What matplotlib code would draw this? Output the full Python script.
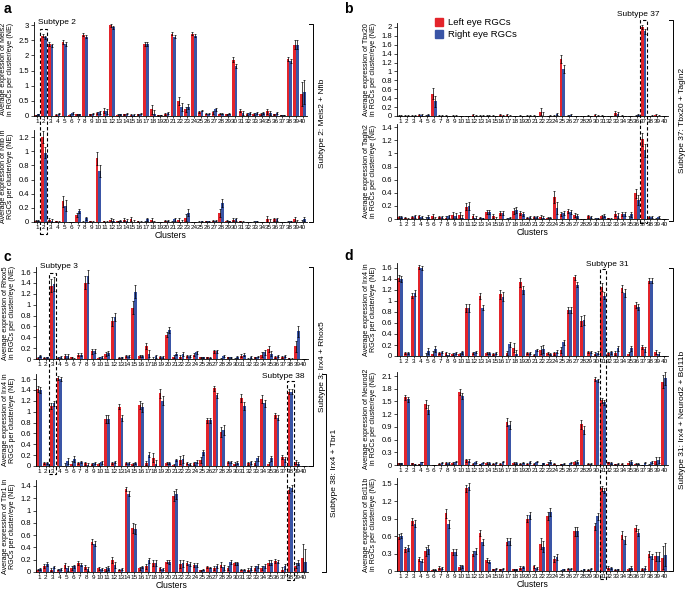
import numpy as np
import matplotlib
matplotlib.use("Agg")
import matplotlib.pyplot as plt
import matplotlib.patches as mpatches
import matplotlib.lines as mlines
import matplotlib.transforms as mtrans
from matplotlib.ticker import FuncFormatter

plt.rcParams['font.family'] = ['Liberation Sans', 'DejaVu Sans']

clusters = list(range(1, 41))

# ---- panel a ----
meis2_L = [0.02, 2.65, 2.38, 0.03, 2.45, 0.03, 0.05, 2.68, 0.05, 0.10, 0.18, 3.00, 0.03, 0.05, 0.03, 0.05, 2.37, 0.22, 0.02, 0.07,
           2.72, 0.50, 0.22, 2.72, 0.12, 0.07, 0.12, 0.07, 0.05, 1.85, 0.18, 0.07, 0.07, 0.07, 0.15, 0.05, 0.03, 1.87, 2.35, 0.72]
meis2_R = [0.05, 2.60, 2.33, 0.07, 2.37, 0.10, 0.05, 2.62, 0.08, 0.12, 0.15, 2.93, 0.05, 0.07, 0.03, 0.07, 2.38, 0.05, 0.03, 0.10,
           2.62, 0.30, 0.30, 2.65, 0.18, 0.07, 0.22, 0.07, 0.08, 1.65, 0.10, 0.10, 0.10, 0.10, 0.10, 0.10, 0.03, 1.82, 2.35, 0.78]
meis2_err = [0.02, 0.05, 0.06, 0.02, 0.07, 0.03, 0.02, 0.05, 0.02, 0.04, 0.08, 0.05, 0.02, 0.02, 0.02, 0.02, 0.06, 0.15, 0.01, 0.03,
             0.06, 0.13, 0.08, 0.05, 0.03, 0.02, 0.05, 0.02, 0.02, 0.08, 0.06, 0.03, 0.03, 0.03, 0.07, 0.03, 0.01, 0.07, 0.15, 0.40]

nfib_L = [0.02, 1.20, 0.03, 0.01, 0.29, 0.00, 0.10, 0.00, 0.01, 0.90, 0.01, 0.03, 0.01, 0.03, 0.04, 0.01, 0.00, 0.03, 0.00, 0.02,
          0.00, 0.03, 0.06, 0.00, 0.00, 0.01, 0.02, 0.13, 0.02, 0.03, 0.01, 0.00, 0.00, 0.00, 0.04, 0.04, 0.00, 0.00, 0.04, 0.00]
nfib_R = [0.02, 0.98, 0.02, 0.00, 0.23, 0.00, 0.16, 0.05, 0.00, 0.72, 0.00, 0.02, 0.02, 0.02, 0.00, 0.00, 0.04, 0.00, 0.00, 0.02,
          0.04, 0.00, 0.13, 0.00, 0.01, 0.01, 0.02, 0.27, 0.01, 0.04, 0.00, 0.00, 0.01, 0.00, 0.00, 0.04, 0.00, 0.01, 0.00, 0.04]
nfib_err = [0.01, 0.08, 0.02, 0.01, 0.08, 0.00, 0.03, 0.02, 0.01, 0.09, 0.01, 0.02, 0.01, 0.02, 0.03, 0.01, 0.02, 0.02, 0.00, 0.01,
            0.02, 0.03, 0.05, 0.00, 0.01, 0.01, 0.01, 0.06, 0.01, 0.02, 0.01, 0.00, 0.01, 0.00, 0.04, 0.02, 0.00, 0.01, 0.03, 0.03]

# ---- panel b ----
tbx20_L = [0.01, 0.01, 0.01, 0.02, 0.00, 0.50, 0.01, 0.01, 0.01, 0.00, 0.00, 0.03, 0.01, 0.01, 0.01, 0.02, 0.02, 0.00, 0.01, 0.01,
           0.01, 0.10, 0.00, 0.01, 1.28, 0.01, 0.00, 0.00, 0.01, 0.02, 0.01, 0.00, 0.07, 0.01, 0.00, 0.01, 2.00, 0.00, 0.02, 0.00]
tbx20_R = [0.01, 0.01, 0.01, 0.03, 0.03, 0.33, 0.01, 0.00, 0.01, 0.00, 0.00, 0.01, 0.01, 0.01, 0.00, 0.01, 0.00, 0.00, 0.00, 0.01,
           0.00, 0.00, 0.01, 0.05, 1.06, 0.02, 0.00, 0.00, 0.00, 0.01, 0.00, 0.00, 0.05, 0.00, 0.00, 0.02, 1.90, 0.01, 0.00, 0.00]
tbx20_err = [0.01, 0.01, 0.01, 0.02, 0.02, 0.12, 0.01, 0.01, 0.01, 0.00, 0.00, 0.02, 0.01, 0.01, 0.01, 0.02, 0.02, 0.00, 0.01, 0.01,
             0.01, 0.08, 0.01, 0.02, 0.09, 0.02, 0.00, 0.00, 0.01, 0.02, 0.01, 0.00, 0.04, 0.01, 0.00, 0.02, 0.05, 0.01, 0.02, 0.00]

tagln2_L = [0.03, 0.02, 0.03, 0.04, 0.00, 0.04, 0.03, 0.02, 0.06, 0.06, 0.19, 0.05, 0.02, 0.10, 0.04, 0.09, 0.00, 0.12, 0.09, 0.02,
            0.03, 0.03, 0.02, 0.33, 0.08, 0.12, 0.06, 0.00, 0.04, 0.00, 0.04, 0.01, 0.08, 0.07, 0.00, 0.39, 1.22, 0.03, 0.00, 0.00]
tagln2_R = [0.03, 0.00, 0.04, 0.03, 0.03, 0.00, 0.03, 0.04, 0.05, 0.01, 0.20, 0.02, 0.01, 0.11, 0.00, 0.09, 0.02, 0.14, 0.07, 0.03,
            0.03, 0.02, 0.02, 0.17, 0.09, 0.10, 0.05, 0.00, 0.03, 0.01, 0.05, 0.00, 0.05, 0.07, 0.07, 0.29, 1.05, 0.03, 0.03, 0.00]
tagln2_err = [0.01, 0.01, 0.02, 0.02, 0.03, 0.03, 0.01, 0.02, 0.04, 0.05, 0.06, 0.03, 0.01, 0.03, 0.03, 0.03, 0.01, 0.05, 0.03, 0.01,
              0.02, 0.03, 0.01, 0.09, 0.03, 0.03, 0.03, 0.00, 0.02, 0.01, 0.02, 0.01, 0.04, 0.03, 0.04, 0.07, 0.10, 0.01, 0.02, 0.00]

# ---- panel c / d ----
rhox5_L = [0.02, 0.02, 1.35, 0.02, 0.06, 0.03, 0.08, 1.40, 0.14, 0.02, 0.09, 0.69, 0.02, 0.05, 0.94, 0.05, 0.24, 0.00, 0.04, 0.45,
           0.04, 0.04, 0.05, 0.08, 0.03, 0.03, 0.14, 0.00, 0.03, 0.00, 0.06, 0.00, 0.03, 0.08, 0.18, 0.03, 0.04, 0.01, 0.23, 0.00]
rhox5_R = [0.05, 0.03, 1.38, 0.03, 0.06, 0.00, 0.08, 1.52, 0.15, 0.03, 0.11, 0.77, 0.03, 0.06, 1.24, 0.05, 0.10, 0.05, 0.03, 0.53,
           0.10, 0.09, 0.05, 0.12, 0.03, 0.02, 0.14, 0.05, 0.03, 0.03, 0.08, 0.04, 0.04, 0.12, 0.10, 0.05, 0.05, 0.00, 0.51, 0.00]
rhox5_err = [0.02, 0.01, 0.12, 0.02, 0.04, 0.01, 0.03, 0.12, 0.04, 0.02, 0.04, 0.08, 0.01, 0.02, 0.12, 0.02, 0.06, 0.03, 0.02, 0.05,
             0.03, 0.04, 0.02, 0.03, 0.01, 0.01, 0.03, 0.02, 0.01, 0.02, 0.03, 0.02, 0.01, 0.04, 0.05, 0.02, 0.02, 0.01, 0.10, 0.00]

irx4_L = [1.42, 0.05, 1.10, 1.62, 0.00, 0.04, 0.05, 0.05, 0.04, 0.03, 0.87, 0.06, 1.09, 0.05, 0.03, 1.12, 0.05, 0.15, 1.34, 0.05,
          0.02, 0.11, 0.05, 0.05, 0.11, 0.84, 1.43, 0.63, 0.07, 0.04, 1.25, 0.05, 0.05, 1.23, 0.03, 0.93, 0.16, 1.37, 0.07, 0.00]
irx4_R = [1.40, 0.06, 1.15, 1.60, 0.09, 0.13, 0.07, 0.02, 0.05, 0.07, 0.87, 0.08, 0.88, 0.05, 0.06, 1.08, 0.21, 0.03, 1.20, 0.06,
          0.11, 0.13, 0.03, 0.08, 0.25, 0.84, 1.30, 0.66, 0.07, 0.06, 1.10, 0.07, 0.14, 1.15, 0.14, 0.89, 0.12, 1.37, 0.04, 0.00]
irx4_err = [0.05, 0.02, 0.05, 0.03, 0.05, 0.06, 0.02, 0.03, 0.02, 0.03, 0.07, 0.02, 0.05, 0.02, 0.02, 0.08, 0.04, 0.08, 0.08, 0.02,
            0.02, 0.07, 0.02, 0.03, 0.05, 0.05, 0.05, 0.09, 0.02, 0.03, 0.07, 0.03, 0.04, 0.07, 0.05, 0.05, 0.04, 0.05, 0.04, 0.00]

tbr1_L = [0.04, 0.10, 0.04, 0.04, 0.11, 0.06, 0.15, 0.08, 0.49, 0.06, 0.05, 0.20, 0.04, 1.35, 0.72, 0.06, 0.09, 0.15, 0.06, 0.17,
          1.24, 0.13, 0.15, 0.11, 0.03, 0.08, 0.07, 0.12, 0.06, 0.14, 0.04, 0.04, 0.07, 0.07, 0.15, 0.18, 0.04, 1.33, 0.10, 0.23]
tbr1_R = [0.05, 0.13, 0.08, 0.05, 0.06, 0.09, 0.12, 0.05, 0.46, 0.05, 0.07, 0.12, 0.05, 1.27, 0.70, 0.08, 0.19, 0.15, 0.05, 0.16,
          1.27, 0.14, 0.13, 0.11, 0.04, 0.07, 0.10, 0.08, 0.16, 0.14, 0.04, 0.07, 0.10, 0.10, 0.15, 0.17, 0.09, 1.36, 0.15, 0.16]
tbr1_err = [0.01, 0.03, 0.02, 0.01, 0.04, 0.03, 0.03, 0.03, 0.04, 0.02, 0.03, 0.05, 0.01, 0.04, 0.08, 0.02, 0.04, 0.05, 0.02, 0.03,
            0.08, 0.06, 0.03, 0.03, 0.01, 0.01, 0.03, 0.04, 0.03, 0.02, 0.01, 0.03, 0.03, 0.03, 0.04, 0.03, 0.04, 0.05, 0.04, 0.22]

neurod2_L = [0.04, 1.60, 0.04, 0.02, 1.44, 0.00, 0.03, 0.05, 0.04, 1.73, 0.11, 0.03, 0.02, 0.05, 0.03, 0.03, 1.02, 0.05, 0.03, 0.03,
             0.03, 0.00, 0.03, 0.03, 0.02, 0.00, 0.06, 0.96, 0.03, 2.03, 1.53, 0.06, 0.02, 0.03, 0.05, 0.03, 0.00, 0.00, 0.10, 1.97]
neurod2_R = [0.04, 1.55, 0.02, 0.07, 1.31, 0.00, 0.05, 0.05, 0.08, 1.62, 0.10, 0.07, 0.05, 0.05, 0.05, 0.08, 0.95, 0.04, 0.05, 0.07,
             0.08, 0.04, 0.08, 0.00, 0.03, 0.05, 0.08, 0.83, 0.03, 2.00, 1.48, 0.05, 0.03, 0.00, 0.07, 0.03, 0.05, 0.07, 0.12, 2.05]
neurod2_err = [0.01, 0.06, 0.01, 0.01, 0.10, 0.00, 0.01, 0.02, 0.02, 0.07, 0.03, 0.02, 0.01, 0.02, 0.01, 0.02, 0.10, 0.02, 0.01, 0.02,
               0.02, 0.01, 0.03, 0.01, 0.01, 0.01, 0.03, 0.10, 0.01, 0.04, 0.06, 0.02, 0.01, 0.01, 0.04, 0.01, 0.01, 0.02, 0.08, 0.15]

bcl11b_L = [0.59, 0.37, 0.86, 0.21, 0.34, 0.02, 0.06, 0.99, 0.32, 0.07, 1.42, 0.30, 0.66, 0.19, 0.03, 0.03, 0.50, 0.03, 0.06, 0.90,
            0.08, 0.47, 0.95, 0.21, 0.00, 0.04, 0.68, 0.00, 0.02, 0.77, 1.42, 0.06, 0.02, 0.62, 0.04, 0.74, 0.03, 0.29, 0.25, 0.23]
bcl11b_R = [0.61, 0.40, 0.81, 0.18, 0.37, 0.02, 0.05, 0.81, 0.32, 0.08, 1.45, 0.34, 0.50, 0.16, 0.04, 0.04, 0.51, 0.03, 0.07, 0.96,
            0.05, 0.42, 1.02, 0.24, 0.03, 0.04, 0.68, 0.03, 0.04, 0.94, 1.38, 0.05, 0.03, 0.54, 0.06, 0.66, 0.06, 0.25, 0.25, 0.28]
bcl11b_err = [0.04, 0.05, 0.06, 0.03, 0.08, 0.01, 0.02, 0.07, 0.05, 0.03, 0.06, 0.05, 0.05, 0.03, 0.01, 0.01, 0.06, 0.01, 0.02, 0.06,
              0.02, 0.10, 0.07, 0.05, 0.01, 0.01, 0.07, 0.01, 0.01, 0.06, 0.04, 0.02, 0.01, 0.07, 0.02, 0.06, 0.02, 0.05, 0.08, 0.20]

RED = '#e3242b'
BLUE = '#3a55a6'
W, H = 685, 591

fig = plt.figure(figsize=(W / 100, H / 100), dpi=100)


def px_axes(x0, x1, y0, y1):
    return fig.add_axes([x0 / W, 1 - y1 / H, (x1 - x0) / W, (y1 - y0) / H])


def fmt(v, pos):
    return '%g' % round(v, 2)


def bar_panel(ax, left, right, err, ylim, yticks, ylabel, xlabel=False):
    x = np.array(clusters)
    w = 0.4
    ek = dict(elinewidth=0.5, capsize=0.8, capthick=0.5, ecolor='black')
    ax.bar(x - w / 2, left, w, color=RED, yerr=err, error_kw=ek)
    ax.bar(x + w / 2, right, w, color=BLUE, yerr=err, error_kw=ek)
    ax.set_xlim(0.55, 40.6)
    ax.set_ylim(*ylim)
    ax.set_yticks(yticks)
    ax.yaxis.set_major_formatter(FuncFormatter(fmt))
    ax.set_xticks(clusters)
    ax.set_xticklabels([str(c) for c in clusters])
    ax.tick_params(axis='x', labelsize=4.6, length=1.5, width=0.5, pad=1)
    ax.tick_params(axis='y', labelsize=5.5, length=2, width=0.5, pad=1.5)
    for s in ['top', 'right']:
        ax.spines[s].set_visible(False)
    for s in ['left', 'bottom']:
        ax.spines[s].set_linewidth(0.6)
    ax.set_facecolor('none')
    ax.set_ylabel(ylabel, fontsize=5.1, labelpad=3, linespacing=1.15)
    if xlabel:
        ax.set_xlabel('Clusters', fontsize=6.2, labelpad=0.5)


def dash_box(ax, cluster, ytop, ybot):
    tr = mtrans.blended_transform_factory(ax.transData, fig.transFigure)
    r = mpatches.Rectangle((cluster - 0.5, 1 - ybot / H), 1.0, (ybot - ytop) / H, transform=tr,
                           fill=False, ls=(0, (3, 2)), lw=0.8, ec='black')
    fig.add_artist(r)


def bracket(xp, ytop, ybot, label, ylab=None):
    xs = [(xp - 4) / W, xp / W, xp / W, (xp - 4) / W]
    ys = [1 - ytop / H, 1 - ytop / H, 1 - ybot / H, 1 - ybot / H]
    fig.add_artist(mlines.Line2D(xs, ys, lw=0.7, color='black', transform=fig.transFigure))
    yc = (ytop + ybot) / 2 if ylab is None else ylab
    fig.text((xp + 9) / W, 1 - yc / H, label, rotation=90, fontsize=6, ha='center', va='center')


def ftext(xp, yp, s, **kw):
    fig.text(xp / W, 1 - yp / H, s, **kw)


# panel a
a1 = px_axes(34, 307, 22, 116)
bar_panel(a1, meis2_L, meis2_R, meis2_err, (0, 3.1), np.arange(0, 3.01, 0.5),
          'Average expression of Meis2\nin RGCs per cluster/eye (NE)')
a2 = px_axes(34, 307, 130, 222)
bar_panel(a2, nfib_L, nfib_R, nfib_err, (0, 1.3), np.arange(0, 1.21, 0.2),
          'Average expression of Nfib in\nRGCs per cluster/eye (NE)', xlabel=True)
dash_box(a1, 2, 29, 234)
ftext(38, 22, 'Subtype 2', fontsize=6, va='center')
bracket(313, 24, 222, 'Subtype 2: Meis2 + Nfib')
ftext(4, 9, 'a', fontsize=10, fontweight='bold', va='center')

# panel b
b1 = px_axes(397, 668, 22.5, 116)
bar_panel(b1, tbx20_L, tbx20_R, tbx20_err, (0, 2.1), np.arange(0, 2.01, 0.2),
          'Average expression of Tbx20\nin RGCs per cluster/eye (NE)')
b2 = px_axes(397, 668, 124, 219)
bar_panel(b2, tagln2_L, tagln2_R, tagln2_err, (0, 1.45), np.arange(0, 1.41, 0.2),
          'Average expression of Tagln2\nin RGCs per cluster/eye (NE)', xlabel=True)
dash_box(b1, 37, 20, 223)
ftext(638, 15, 'Subtype 37', fontsize=6, va='center', ha='center')
bracket(673, 20, 221, 'Subtype 37: Tbx20 + Tagln2')
ftext(344, 9, 'b', fontsize=10, fontweight='bold', va='center')
hl = [mpatches.Patch(color=RED, label='Left eye RGCs'), mpatches.Patch(color=BLUE, label='Right eye RGCs')]
b1.legend(handles=hl, loc='upper left', bbox_to_anchor=(430 / W, 1 - 13 / H), bbox_transform=fig.transFigure,
          frameon=False, fontsize=6.8, handlelength=0.9, handleheight=1.0, handletextpad=0.5, labelspacing=0.25,
          borderpad=0)

# panel c
c1 = px_axes(36, 308, 266.6, 359)
bar_panel(c1, rhox5_L, rhox5_R, rhox5_err, (0, 1.7), np.arange(0, 1.61, 0.2),
          'Average expression of Rhox5\nin RGCs per cluster/eye (NE)')
c2 = px_axes(36, 308, 373.6, 466)
bar_panel(c2, irx4_L, irx4_R, irx4_err, (0, 1.7), np.arange(0, 1.61, 0.2),
          'Average expression of Irx4 in\nRGCs per cluster/eye (NE)')
c3 = px_axes(36, 308, 479.8, 572)
bar_panel(c3, tbr1_L, tbr1_R, tbr1_err, (0, 1.5), np.arange(0, 1.41, 0.2),
          'Average expression of Tbr1 in\nRGCs per cluster/eye (NE)', xlabel=True)
dash_box(c1, 3, 273, 474)
dash_box(c2, 38, 381, 580)
ftext(40, 267, 'Subtype 3', fontsize=6, va='center')
ftext(305, 376, 'Subtype 38', fontsize=6, va='center', ha='right')
bracket(313, 267, 466, 'Subtype 3: Irx4 + Rhox5')
bracket(326, 374, 572, 'Subtype 38: Irx4 + Tbr1')
ftext(4, 257, 'c', fontsize=10, fontweight='bold', va='center')

# panel d
d1 = px_axes(397, 668, 262.5, 356)
bar_panel(d1, irx4_L, irx4_R, irx4_err, (0, 1.7), np.arange(0, 1.61, 0.2),
          'Average expression of Irx4 in\nRGCs per cluster/eye (NE)')
d2 = px_axes(397, 668, 371.8, 465)
bar_panel(d2, neurod2_L, neurod2_R, neurod2_err, (0, 2.2), np.arange(0, 2.11, 0.3),
          'Average expression of Neurod2\nin RGCs per cluster/eye (NE)')
d3 = px_axes(397, 668, 478, 571)
bar_panel(d3, bcl11b_L, bcl11b_R, bcl11b_err, (0, 1.6), np.arange(0, 1.51, 0.3),
          'Average expression of Bcl11b\nin RGCs per cluster/eye (NE)', xlabel=True)
dash_box(d1, 31, 269, 579)
ftext(607, 264, 'Subtype 31', fontsize=6, va='center', ha='center')
bracket(673, 268, 571, 'Subtype 31: Irx4 + Neurod2 + Bcl11b')
ftext(344, 256, 'd', fontsize=10, fontweight='bold', va='center')

fig.savefig('out.png', dpi=100)
